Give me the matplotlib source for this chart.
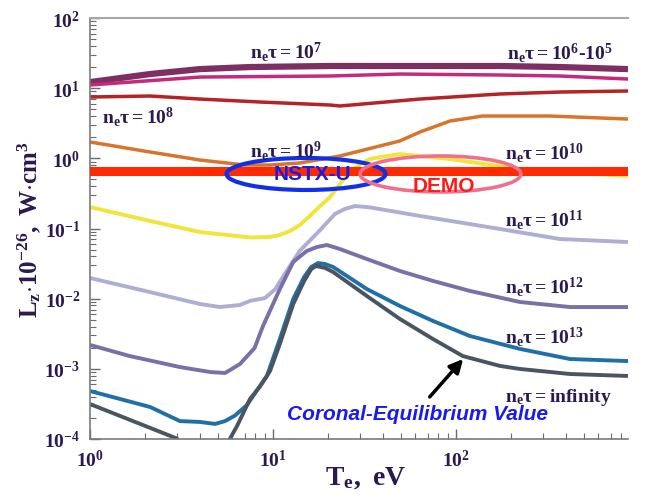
import numpy as np
import matplotlib
matplotlib.use("Agg")
import matplotlib.pyplot as plt
from matplotlib.patches import Ellipse
from matplotlib.ticker import FuncFormatter, NullFormatter

# --- fuentes ---
plt.rcParams['font.family'] = 'Liberation Serif'
plt.rcParams['font.weight'] = 'bold'
plt.rcParams['mathtext.fontset'] = 'custom'
plt.rcParams['mathtext.rm'] = 'Liberation Serif:bold'
plt.rcParams['mathtext.bf'] = 'Liberation Serif:bold'
plt.rcParams['mathtext.it'] = 'Liberation Serif:bold'

# --- datos (Te en eV, Lz en 1e-26 W cm^3) ---
T_7 = [1.0, 2.13, 3.99, 7.49, 20.5, 63.5, 174, 370, 871]
L_7 = [12.2, 15.9, 18.7, 20.0, 20.7, 20.7, 20.7, 20.0, 18.7]

T_65 = [1.0, 3.99, 20.5, 49.4, 174, 370, 871]
L_65 = [11.1, 14.4, 14.9, 15.9, 15.4, 14.9, 13.5]

T_8 = [1.0, 2.13, 3.99, 8.49, 20.5, 23.2, 63.5, 174, 370, 871]
L_8 = [7.48, 7.73, 7.00, 6.35, 5.75, 5.57, 7.00, 8.26, 8.81, 9.11]

T_9 = [1.0, 2.13, 3.99, 7.03, 9.63, 14.0, 23.2, 49.4, 63.5, 92.7, 140, 326, 871]
L_9 = [1.71, 1.23, 0.946, 0.803, 0.803, 0.858, 1.08, 1.77, 2.37, 3.40, 4.01, 4.01, 3.63]

T_10 = [1.0, 2.13, 3.99, 7.49, 9.63, 10.9, 12.4, 14.0, 15.9, 18.1, 20.5, 23.2, 26.3, 29.9, 33.8,
        38.4, 49.4, 92.7, 224, 871]
L_10 = [0.202, 0.128, 0.0891, 0.0745, 0.0757, 0.0808, 0.0921, 0.112, 0.151, 0.209, 0.281, 0.430,
        0.638, 0.830, 0.977, 1.04, 1.15, 0.977, 0.704, 0.560]

T_11 = [1.0, 2.13, 3.99, 5.13, 6.60, 7.49, 9.04, 10.3, 11.6, 14.0, 18.1, 21.8, 24.7, 28.1, 33.8,
        63.5, 174, 370, 871]
L_11 = [0.0197, 0.0124, 0.00839, 0.00760, 0.00813, 0.0093, 0.0102, 0.0137, 0.0225, 0.0479, 0.0951,
        0.161, 0.190, 0.209, 0.200, 0.151, 0.0984, 0.0708, 0.0641]

T_12 = [1.0, 1.65, 3.10, 4.53, 5.47, 6.60, 7.93, 8.82, 10.9, 12.9, 15.3, 17.4, 19.7, 23.2, 32.6,
        49.4, 74.9, 119, 224, 420, 871]
L_12 = [0.00219, 0.00152, 0.00106, 0.000901, 0.000872, 0.00117, 0.00198, 0.00408, 0.0137, 0.0333,
        0.0479, 0.0545, 0.0582, 0.0510, 0.0367, 0.0248, 0.0179, 0.0129, 0.00896, 0.00760, 0.00760]

T_13 = [1.0, 2.13, 3.10, 3.99, 4.82, 5.47, 6.20, 7.21, 8.12, 9.27, 10.9, 12.9, 14.8, 16.2, 17.6,
        19.2, 21.3, 32.6, 49.4, 74.9, 119, 224, 420, 871]
L_13 = [0.000483, 0.000286, 0.000180, 0.000175, 0.000164, 0.000180, 0.000216, 0.000305, 0.000483,
        0.000791, 0.00266, 0.00989, 0.0204, 0.0283, 0.0322, 0.0312, 0.0283, 0.0137, 0.00786, 0.00481,
        0.00294, 0.00192, 0.00138, 0.00129]

# n*tau = infinito (equilibrio coronal), con hueco bajo 1e-4
T_inf = [1.0, 3.03, np.nan, 5.61, 6.36, 7.49, 8.49, 9.63, 10.9, 12.9, 14.8, 16.2, 17.2, 19.2, 21.3,
         32.6, 49.4, 74.9, 109, 174, 224, 420, 871]
L_inf = [0.000315, 0.0001, np.nan, 0.0000849, 0.000153, 0.000372, 0.000560, 0.000930, 0.00226,
         0.00839, 0.0179, 0.0265, 0.0292, 0.0275, 0.0240, 0.0109, 0.00513, 0.00266, 0.00152,
         0.00110, 0.000995, 0.000844, 0.000791]

band_level = 0.66

curvas = [
    (T_7, L_7, '#7d2f62', 4.5),
    (T_65, L_65, '#c42a7c', 2.5),
    (T_8, L_8, '#b52325', 2.5),
    (T_9, L_9, '#d8742c', 2.5),
    (T_10, L_10, '#f2e43a', 2.8),
    (T_11, L_11, '#aeaed4', 2.8),
    (T_12, L_12, '#7a70a8', 2.8),
    (T_13, L_13, '#1f70a8', 2.8),
    (T_inf, L_inf, '#4b5560', 2.8),
]

etiquetas = [
    (0.297, 0.922, r'$\mathbf{n_e\tau = 10^7}$'),
    (0.775, 0.919, r'$\mathbf{n_e\tau = 10^6\text{-}10^5}$'),
    (0.022, 0.767, r'$\mathbf{n_e\tau = 10^8}$'),
    (0.297, 0.686, r'$\mathbf{n_e\tau = 10^9}$'),
    (0.771, 0.682, r'$\mathbf{n_e\tau = 10^{10}}$'),
    (0.771, 0.523, r'$\mathbf{n_e\tau = 10^{11}}$'),
    (0.771, 0.363, r'$\mathbf{n_e\tau = 10^{12}}$'),
    (0.771, 0.245, r'$\mathbf{n_e\tau = 10^{13}}$'),
    (0.771, 0.102, r'$\mathbf{n_e\tau = infinity}$'),
]

tinta = '#2a1a50'

fig = plt.figure(figsize=(6.51, 5.02), dpi=100)
ax = fig.add_axes([90 / 651, 62 / 502, 538 / 651, 421 / 502])

for T, L, c, lw in curvas:
    ax.plot(T, L, color=c, lw=lw, solid_capstyle='butt', solid_joinstyle='round', zorder=2)

ax.axhline(band_level, color='#ff2a00', lw=6.5, zorder=3)

ax.set_xscale('log')
ax.set_yscale('log')
ax.set_xlim(1, 871)
ax.set_ylim(1e-4, 1e2)

potencia = FuncFormatter(lambda v, pos: r'$\mathbf{10^{%d}}$' % round(np.log10(v)))
for eje in [ax.xaxis, ax.yaxis]:
    eje.set_major_formatter(potencia)
    eje.set_minor_formatter(NullFormatter())
    eje.label.set_visible(False)
    eje.get_offset_text().set_visible(False)

# --- ejes ---
for lado in ['left', 'bottom']:
    ax.spines[lado].set_color('#7a7a7a')
    ax.spines[lado].set_linewidth(1.2)
ax.spines['top'].set_color('#a8a8a8')
ax.spines['top'].set_linewidth(1.5)
ax.spines['right'].set_visible(False)
ax.tick_params(which='both', direction='in', colors='#6a6a6a', top=False, right=False)
ax.tick_params(which='major', length=7, width=1, pad=7, labelsize=14, labelcolor=tinta)
ax.tick_params(which='minor', length=4, width=0.8)

# --- elipses y textos ---
ax.add_patch(Ellipse((0.4015, 0.6295), 0.2955, 0.076, transform=ax.transAxes,
                     fill=False, ec='#1030e8', lw=3, zorder=5))
ax.add_patch(Ellipse((0.6515, 0.6295), 0.299, 0.0855, transform=ax.transAxes,
                     fill=False, ec='#f0708c', lw=2.6, zorder=5))
ax.text(0.413, 0.6295, 'NSTX-U', transform=ax.transAxes, ha='center', va='center',
        family='Liberation Sans', weight='bold', fontsize=15, color='#1c1ce0', zorder=6)
ax.text(0.658, 0.603, 'DEMO', transform=ax.transAxes, ha='center', va='center',
        family='Liberation Sans', weight='bold', fontsize=15, color='#ff1a1a', zorder=6)
ax.text(0.366, 0.0594, 'Coronal-Equilibrium Value', transform=ax.transAxes, ha='left',
        va='center', family='Liberation Sans', weight='bold', style='italic', fontsize=15,
        color='#1a1af0', zorder=6)
ax.annotate('', xy=(0.697, 0.195), xytext=(0.628, 0.095), xycoords='axes fraction',
            arrowprops=dict(arrowstyle='-|>,head_length=0.8,head_width=0.4', color='black',
                            lw=2.5), zorder=6)

for x, y, s in etiquetas:
    ax.text(x, y, s, transform=ax.transAxes, ha='left', va='center', fontsize=14,
            color=tinta, zorder=6)

fig.text(29 / 651, 1 - 230 / 502, r'$\mathbf{L_z{\cdot}10^{-26},\ W{\cdot}cm^3}$',
         rotation=90, ha='center', va='center', fontsize=18, color=tinta)
fig.text(366 / 651, 1 - 478 / 502, r'$\mathbf{T_e,\ eV}$', ha='center', va='center',
         fontsize=20, color=tinta)

fig.savefig('out.png', dpi=100)
